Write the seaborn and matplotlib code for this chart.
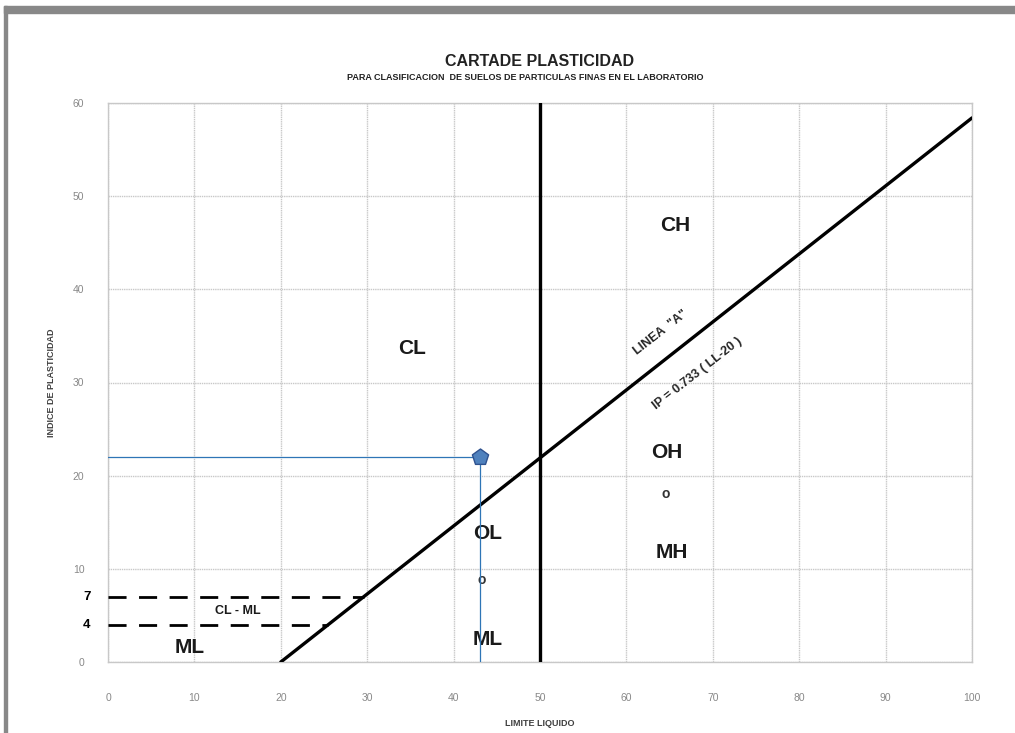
import numpy as np
import pandas as pd
import matplotlib
matplotlib.use("Agg")
from matplotlib import pyplot as plt
from matplotlib.patches import Rectangle
import seaborn as sns

# A-line: IP = 0.73 (LL - 20)
a_line_ll = [20, 100]
a_line_ip = [0.0, 58.4]
# U/limit line at LL = 50
ll_limit = 50
# CL-ML band
band_ip = [7, 4]
band_ll_end = [29.6, 25.5]

# sample point
sample_ll = 43
sample_ip = 22

zone_names = ["CL", "CH", "OH", "MH", "OL", "ML", "ML"]
zone_x = [35.2, 65.6, 64.7, 65.3, 43.9, 43.9, 9.5]
zone_y = [33.7, 46.9, 22.5, 11.8, 13.8, 2.4, 1.6]

circle_x = [43.2, 64.5]
circle_y = [8.8, 18.0]

sns.set_style("white")
plt.rcParams["font.family"] = ["Liberation Sans", "DejaVu Sans"]

fig = plt.figure(figsize=(10.15, 7.33), dpi=100)
ax = fig.add_axes([108 / 1015, 1 - 662 / 733, (972 - 108) / 1015, (662 - 103) / 733])

# frame around picture
fig.patches.append(Rectangle((4 / 1015, 0), 3 / 1015, 1 - 6 / 733, transform=fig.transFigure,
                             color="#888888", zorder=0))
fig.patches.append(Rectangle((4 / 1015, 1 - 13 / 733), 1 - 4 / 1015, 7 / 733, transform=fig.transFigure,
                             color="#888888", zorder=0))

ax.set_xlim(0, 100)
ax.set_ylim(0, 60)
ax.set_xticks(range(0, 101, 10))
ax.set_yticks(range(0, 61, 10))
ax.grid(True, color="#c8c8c8", linestyle=(0, (1, 0.6)), linewidth=1.0)
ax.set_axisbelow(True)
for s in ax.spines.values():
    s.set_color("#c8c8c8")
    s.set_linewidth(1.0)
ax.tick_params(axis="both", length=0, labelsize=7.5, labelcolor="#888888")
ax.tick_params(axis="x", pad=22)
ax.tick_params(axis="y", pad=17)

df_a = pd.DataFrame({"ll": a_line_ll, "ip": a_line_ip})
sns.lineplot(data=df_a, x="ll", y="ip", ax=ax, color="black", linewidth=2.4, zorder=4)
ax.axvline(ll_limit, color="black", linewidth=2.4, zorder=4)

for ip, end in zip(band_ip, band_ll_end):
    ax.plot([0, end], [ip, ip], color="black", linewidth=2.0, dashes=(6.5, 4.5), zorder=4)
    ax.text(-2, ip, str(ip), ha="right", va="center", fontsize=9.5, fontweight="bold", color="black")

ax.plot([0, sample_ll], [sample_ip, sample_ip], color="#2e75b6", linewidth=0.9, zorder=5)
ax.plot([sample_ll, sample_ll], [sample_ip, 0], color="#2e75b6", linewidth=0.9, zorder=5)
sns.scatterplot(x=[sample_ll], y=[sample_ip], ax=ax, marker="p", s=150, color="#4f81bd",
                edgecolor="#2f528f", linewidth=1, zorder=6)

for name, x, y in zip(zone_names, zone_x, zone_y):
    ax.text(x, y, name, ha="center", va="center", fontsize=15, fontweight="bold", color="#1a1a1a")
ax.text(15.0, 5.5, "CL - ML", ha="center", va="center", fontsize=9, fontweight="bold", color="#1a1a1a")
for x, y in zip(circle_x, circle_y):
    ax.text(x, y, "o", ha="center", va="center", fontsize=10, fontweight="bold", color="#333333")

ax.text(64.0, 35.4, 'LINEA  "A"', rotation=38, ha="center", va="center", fontsize=9,
        fontweight="bold", rotation_mode="anchor")
ax.text(68.2, 31.0, "IP = 0.733 ( LL-20 )", rotation=38, ha="center", va="center", fontsize=9,
        fontweight="bold", rotation_mode="anchor")

ax.set_xlabel("LIMITE LIQUIDO", fontsize=6.5, fontweight="bold", color="#404040", labelpad=12)
ax.set_ylabel("INDICE DE PLASTICIDAD", fontsize=6.5, fontweight="bold", color="#404040", labelpad=12)

fig.text(540 / 1015, 1 - 61 / 733, "CARTADE PLASTICIDAD", ha="center", va="center",
         fontsize=11.5, fontweight="bold", color="#222222")
fig.text(525 / 1015, 1 - 77 / 733, "PARA CLASIFICACION  DE SUELOS DE PARTICULAS FINAS EN EL LABORATORIO",
         ha="center", va="center", fontsize=6.5, fontweight="bold", color="#222222")

fig.savefig("out.png", dpi=100)
